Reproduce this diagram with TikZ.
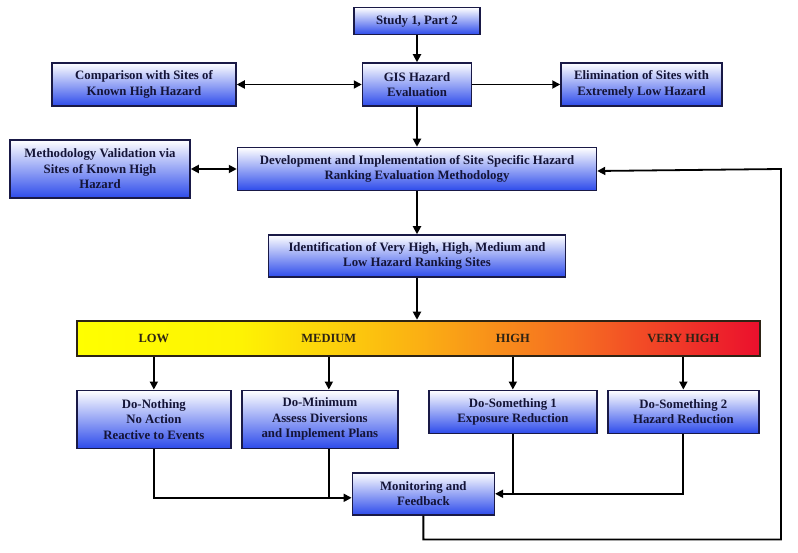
\documentclass[tikz,border=0pt]{standalone}
\usepackage{fontspec}
\setmainfont{Liberation Serif}
\usetikzlibrary{arrows.meta, positioning, calc}
\definecolor{boxblue}{RGB}{45,75,235}
\definecolor{boxline}{RGB}{25,25,70}
\definecolor{textnavy}{RGB}{20,20,55}
\definecolor{barline}{RGB}{45,35,20}
\definecolor{hzyellow}{RGB}{255,255,0}
\definecolor{hzgold}{RGB}{252,215,10}
\definecolor{hzorange}{RGB}{250,150,25}
\definecolor{hzred}{RGB}{242,75,40}
\definecolor{hzcrimson}{RGB}{235,15,45}
\pgfdeclarehorizontalshading{hazardbar}{100bp}{color(0bp)=(hzyellow); color(25bp)=(hzyellow); color(37bp)=(hzyellow!70!hzgold); color(50bp)=(hzgold!40!hzorange); color(62bp)=(hzorange!40!hzred); color(75bp)=(hzcrimson); color(100bp)=(hzcrimson)}

\begin{document}
\begin{tikzpicture}[
    x=1pt, y=1pt,
    stage/.style={rectangle, draw=boxline, line width=1.5pt, top color=white, bottom color=boxblue, inner sep=0pt, align=center, text=textnavy, font=\bfseries\fontsize{12.8}{15.5}\selectfont},
    hazard/.style={rectangle, draw=barline, line width=1.8pt, shading=hazardbar, inner sep=0pt, minimum width=683pt, minimum height=35pt},
    level/.style={font=\bfseries\fontsize{12.5}{14}\selectfont, text=barline},
    arrow/.style={-{Triangle[length=8pt,width=8pt]}, line width=1.8pt},
    twoway/.style={{Triangle[length=8pt,width=8pt]}-{Triangle[length=8pt,width=8pt]}, line width=1.8pt},
    link/.style={line width=1.3pt}
]
\useasboundingbox (0,0) rectangle (798,-553);

% main column
\node[stage, minimum width=126pt, minimum height=27pt] (study) at (417,-21) {Study 1, Part 2};
\node[stage, minimum width=109pt, minimum height=43pt, below=27pt of study] (gis) {GIS Hazard\\Evaluation};
\node[stage, minimum width=359pt, minimum height=43pt, below=40pt of gis] (develop) {Development and Implementation of Site Specific Hazard\\Ranking Evaluation Methodology};
\node[stage, minimum width=297pt, minimum height=42pt, below=43pt of develop] (identify) {Identification of Very High, High, Medium and\\Low Hazard Ranking Sites};

% side boxes
\node[stage, minimum width=184pt, minimum height=43pt, left=125pt of gis] (compare) {Comparison with Sites of\\Known High Hazard};
\node[stage, minimum width=161pt, minimum height=43pt, right=88pt of gis] (eliminate) {Elimination of Sites with\\Extremely Low Hazard};
\node[stage, minimum width=180pt, minimum height=58pt, left=46pt of develop] (validate) {Methodology Validation via\\Sites of Known High\\Hazard};

% hazard ranking bar
\node[hazard, below=42pt of identify, xshift=1.5pt] (bar) {};

% responses
\node[stage, minimum width=154pt, minimum height=58pt, below right=33pt and 0pt of bar.south west, anchor=north west] (nothing) {Do-Nothing\\No Action\\Reactive to Events};
\node[stage, minimum width=156pt, minimum height=58pt, below right=33pt and 165pt of bar.south west, anchor=north west] (minimum) {Do-Minimum\\Assess Diversions\\and Implement Plans};
\node[stage, minimum width=168pt, minimum height=43pt, below right=33pt and 352pt of bar.south west, anchor=north west] (some1) {Do-Something 1\\Exposure Reduction};
\node[stage, minimum width=151pt, minimum height=43pt, below right=33pt and 531pt of bar.south west, anchor=north west] (some2) {Do-Something 2\\Hazard Reduction};
\node[stage, minimum width=142pt, minimum height=42pt, below right=23pt and -47pt of minimum.south east, anchor=north west] (monitor) {Monitoring and\\Feedback};

% level labels
\coordinate (minx) at ([xshift=9pt]minimum.north);
\node[level] (low) at (bar.center -| nothing) {LOW};
\node[level] (medium) at (bar.center -| minx) {MEDIUM};
\node[level] (high) at (bar.center -| some1) {HIGH};
\node[level] (vhigh) at (bar.center -| some2) {VERY HIGH};

% arrows down the column
\draw[arrow] (study) -- (gis);
\draw[arrow] (gis) -- (develop);
\draw[arrow] (develop) -- (identify);
\draw[arrow] (identify) -- (identify |- bar.north);

% side arrows
\draw[twoway] (compare) -- (gis);
\draw[arrow] (gis) -- (eliminate);
\draw[twoway] (validate) -- (develop);

% bar to responses
\draw[arrow] (bar.south -| nothing.north) -- (nothing.north);
\draw[arrow] (bar.south -| minx) -- (minx);
\draw[arrow] (bar.south -| some1.north) -- (some1.north);
\draw[arrow] (bar.south -| some2.north) -- (some2.north);

% responses to monitoring
\coordinate (inleft) at ([yshift=-4pt]monitor.west);
\draw[arrow] (nothing.south) |- (inleft);
\draw[link] (minimum.south -| minx) -- (minx |- inleft);
\draw[arrow] (some2.south) |- (monitor.east);
\draw[link] (some1.south) -- (some1.south |- monitor.east);

% feedback loop
\coordinate (loopbot) at ([yshift=-24pt]monitor.south);
\coordinate (loopright) at (781,0);
\draw[arrow] (monitor.south) -- (loopbot) -| (loopright |- develop.east) -- ([yshift=-2pt]develop.east);
\end{tikzpicture}
\end{document}
